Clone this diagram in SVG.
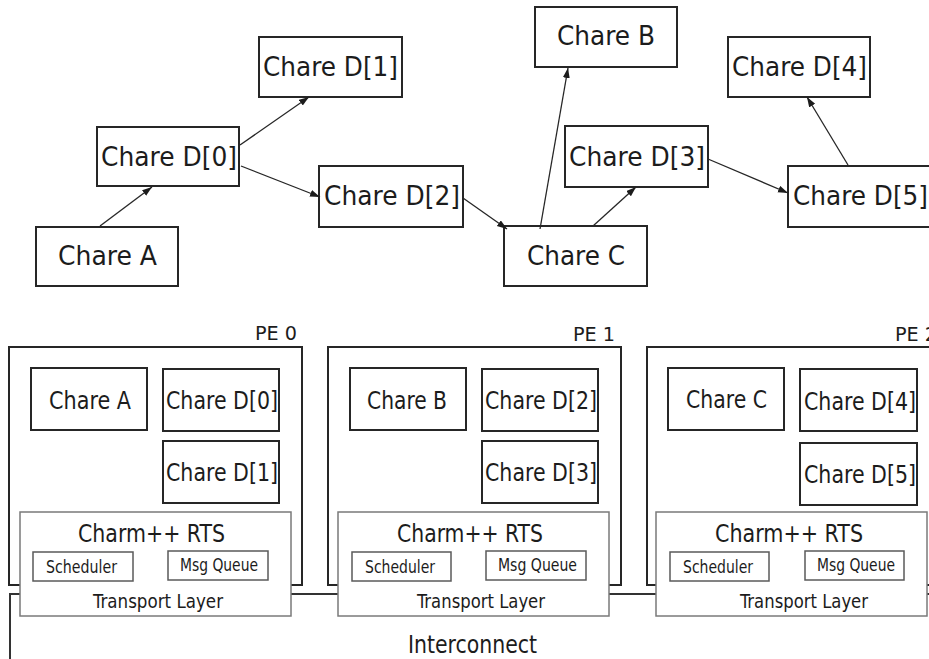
<svg xmlns="http://www.w3.org/2000/svg" width="929" height="659" viewBox="0 0 929 659">
<style>
text{font-family:"DejaVu Sans Condensed","DejaVu Sans",sans-serif;fill:#1c1c1c}
.n{fill:#fff;stroke:#262626;stroke-width:2}
.pe{fill:#fff;stroke:#262626;stroke-width:2}
.rts{fill:#fff;stroke:#7a7a7a;stroke-width:1.5}
.sub{fill:#fff;stroke:#5a5a5a;stroke-width:1.5}
.t{font-size:26px}
.b{font-size:25px}
.s{font-size:17px}
.tl{font-size:20px}
.pl{font-size:20px}
.e{fill:none;stroke:#262626;stroke-width:1.3}
.ic{fill:none;stroke:#333;stroke-width:2}
</style>
<defs>
<marker id="ah" markerUnits="userSpaceOnUse" markerWidth="11" markerHeight="8" refX="10" refY="3.5" orient="auto">
<path d="M0,0 L10,3.5 L0,7 z" fill="#1c1c1c"/>
</marker>
</defs>

<g id="top-graph">
<g id="t-chareA"><rect class="n" x="36" y="227" width="142" height="59"/><text class="t" x="58" y="265" textLength="99" lengthAdjust="spacingAndGlyphs">Chare A</text></g>
<g id="t-d0"><rect class="n" x="97" y="127" width="142" height="59"/><text class="t" x="101" y="166" textLength="136" lengthAdjust="spacingAndGlyphs">Chare D[0]</text></g>
<g id="t-d1"><rect class="n" x="259" y="37" width="143" height="60"/><text class="t" x="263" y="76" textLength="135" lengthAdjust="spacingAndGlyphs">Chare D[1]</text></g>
<g id="t-d2"><rect class="n" x="319" y="166" width="144" height="61"/><text class="t" x="324" y="205" textLength="136" lengthAdjust="spacingAndGlyphs">Chare D[2]</text></g>
<g id="t-chareB"><rect class="n" x="535" y="7" width="142" height="60"/><text class="t" x="557" y="45" textLength="98" lengthAdjust="spacingAndGlyphs">Chare B</text></g>
<g id="t-chareC"><rect class="n" x="504" y="226" width="143" height="60"/><text class="t" x="527" y="265" textLength="98" lengthAdjust="spacingAndGlyphs">Chare C</text></g>
<g id="t-d3"><rect class="n" x="565" y="126" width="143" height="61"/><text class="t" x="569" y="166" textLength="136" lengthAdjust="spacingAndGlyphs">Chare D[3]</text></g>
<g id="t-d4"><rect class="n" x="728" y="37" width="142" height="60"/><text class="t" x="732" y="76" textLength="135" lengthAdjust="spacingAndGlyphs">Chare D[4]</text></g>
<g id="t-d5"><rect class="n" x="788" y="166" width="142" height="61"/><text class="t" x="793" y="205" textLength="135" lengthAdjust="spacingAndGlyphs">Chare D[5]</text></g>
</g>

<g id="connectors">
<line class="e" x1="100" y1="226" x2="152" y2="187" marker-end="url(#ah)"/>
<line class="e" x1="240" y1="145" x2="309" y2="97" marker-end="url(#ah)"/>
<line class="e" x1="241" y1="166" x2="320" y2="197" marker-end="url(#ah)"/>
<line class="e" x1="463" y1="198" x2="507" y2="229" marker-end="url(#ah)"/>
<line class="e" x1="540" y1="229" x2="568" y2="68" marker-end="url(#ah)"/>
<line class="e" x1="593" y1="226" x2="636" y2="187" marker-end="url(#ah)"/>
<line class="e" x1="708" y1="159" x2="788" y2="193" marker-end="url(#ah)"/>
<line class="e" x1="848" y1="165" x2="807" y2="97" marker-end="url(#ah)"/>
</g>

<g id="interconnect">
<path class="ic" d="M10,659 V594 H931"/>
<text class="b" x="408" y="653" textLength="129" lengthAdjust="spacingAndGlyphs">Interconnect</text>
</g>

<g id="pe0">
<text class="pl" x="255" y="340" textLength="42" lengthAdjust="spacingAndGlyphs">PE 0</text>
<rect class="pe" x="9" y="347" width="293" height="238"/>
<g id="pe0-rts">
<rect class="rts" x="20" y="512" width="271" height="104"/>
<text class="b" x="78" y="542" textLength="147" lengthAdjust="spacingAndGlyphs">Charm++ RTS</text>
<rect class="sub" x="33" y="552" width="100" height="29"/>
<text class="s" x="46" y="573" textLength="71" lengthAdjust="spacingAndGlyphs">Scheduler</text>
<rect class="sub" x="168" y="551" width="100" height="29"/>
<text class="s" x="180" y="571" textLength="78" lengthAdjust="spacingAndGlyphs">Msg Queue</text>
<text class="tl" x="93" y="608" textLength="130" lengthAdjust="spacingAndGlyphs">Transport Layer</text>
</g>
<g id="pe0-a"><rect class="n" x="31" y="368" width="116" height="62"/><text class="b" x="49" y="409" textLength="82" lengthAdjust="spacingAndGlyphs">Chare A</text></g>
<g id="pe0-d0"><rect class="n" x="163" y="369" width="116" height="62"/><text class="b" x="166" y="409" textLength="112" lengthAdjust="spacingAndGlyphs">Chare D[0]</text></g>
<g id="pe0-d1"><rect class="n" x="163" y="441" width="116" height="62"/><text class="b" x="166" y="481" textLength="112" lengthAdjust="spacingAndGlyphs">Chare D[1]</text></g>
</g>

<g id="pe1">
<text class="pl" x="573" y="341" textLength="42" lengthAdjust="spacingAndGlyphs">PE 1</text>
<rect class="pe" x="328" y="347" width="293" height="238"/>
<g id="pe1-rts">
<rect class="rts" x="338" y="512" width="271" height="104"/>
<text class="b" x="397" y="542" textLength="146" lengthAdjust="spacingAndGlyphs">Charm++ RTS</text>
<rect class="sub" x="352" y="552" width="99" height="29"/>
<text class="s" x="365" y="573" textLength="70" lengthAdjust="spacingAndGlyphs">Scheduler</text>
<rect class="sub" x="486" y="551" width="100" height="29"/>
<text class="s" x="498" y="571" textLength="79" lengthAdjust="spacingAndGlyphs">Msg Queue</text>
<text class="tl" x="417" y="608" textLength="128" lengthAdjust="spacingAndGlyphs">Transport Layer</text>
</g>
<g id="pe1-b"><rect class="n" x="350" y="368" width="116" height="62"/><text class="b" x="367" y="409" textLength="80" lengthAdjust="spacingAndGlyphs">Chare B</text></g>
<g id="pe1-d2"><rect class="n" x="482" y="369" width="116" height="62"/><text class="b" x="485" y="409" textLength="112" lengthAdjust="spacingAndGlyphs">Chare D[2]</text></g>
<g id="pe1-d3"><rect class="n" x="482" y="441" width="116" height="62"/><text class="b" x="485" y="481" textLength="112" lengthAdjust="spacingAndGlyphs">Chare D[3]</text></g>
</g>

<g id="pe2">
<text class="pl" x="895" y="341" textLength="42" lengthAdjust="spacingAndGlyphs">PE 2</text>
<rect class="pe" x="647" y="347" width="283" height="238"/>
<g id="pe2-rts">
<rect class="rts" x="656" y="512" width="271" height="104"/>
<text class="b" x="715" y="542" textLength="148" lengthAdjust="spacingAndGlyphs">Charm++ RTS</text>
<rect class="sub" x="670" y="552" width="99" height="29"/>
<text class="s" x="683" y="573" textLength="70" lengthAdjust="spacingAndGlyphs">Scheduler</text>
<rect class="sub" x="805" y="551" width="99" height="29"/>
<text class="s" x="817" y="571" textLength="78" lengthAdjust="spacingAndGlyphs">Msg Queue</text>
<text class="tl" x="740" y="608" textLength="128" lengthAdjust="spacingAndGlyphs">Transport Layer</text>
</g>
<g id="pe2-c"><rect class="n" x="668" y="368" width="116" height="62"/><text class="b" x="686" y="408" textLength="81" lengthAdjust="spacingAndGlyphs">Chare C</text></g>
<g id="pe2-d4"><rect class="n" x="800" y="369" width="117" height="62"/><text class="b" x="804" y="410" textLength="112" lengthAdjust="spacingAndGlyphs">Chare D[4]</text></g>
<g id="pe2-d5"><rect class="n" x="800" y="443" width="117" height="62"/><text class="b" x="804" y="483" textLength="112" lengthAdjust="spacingAndGlyphs">Chare D[5]</text></g>
</g>
</svg>
